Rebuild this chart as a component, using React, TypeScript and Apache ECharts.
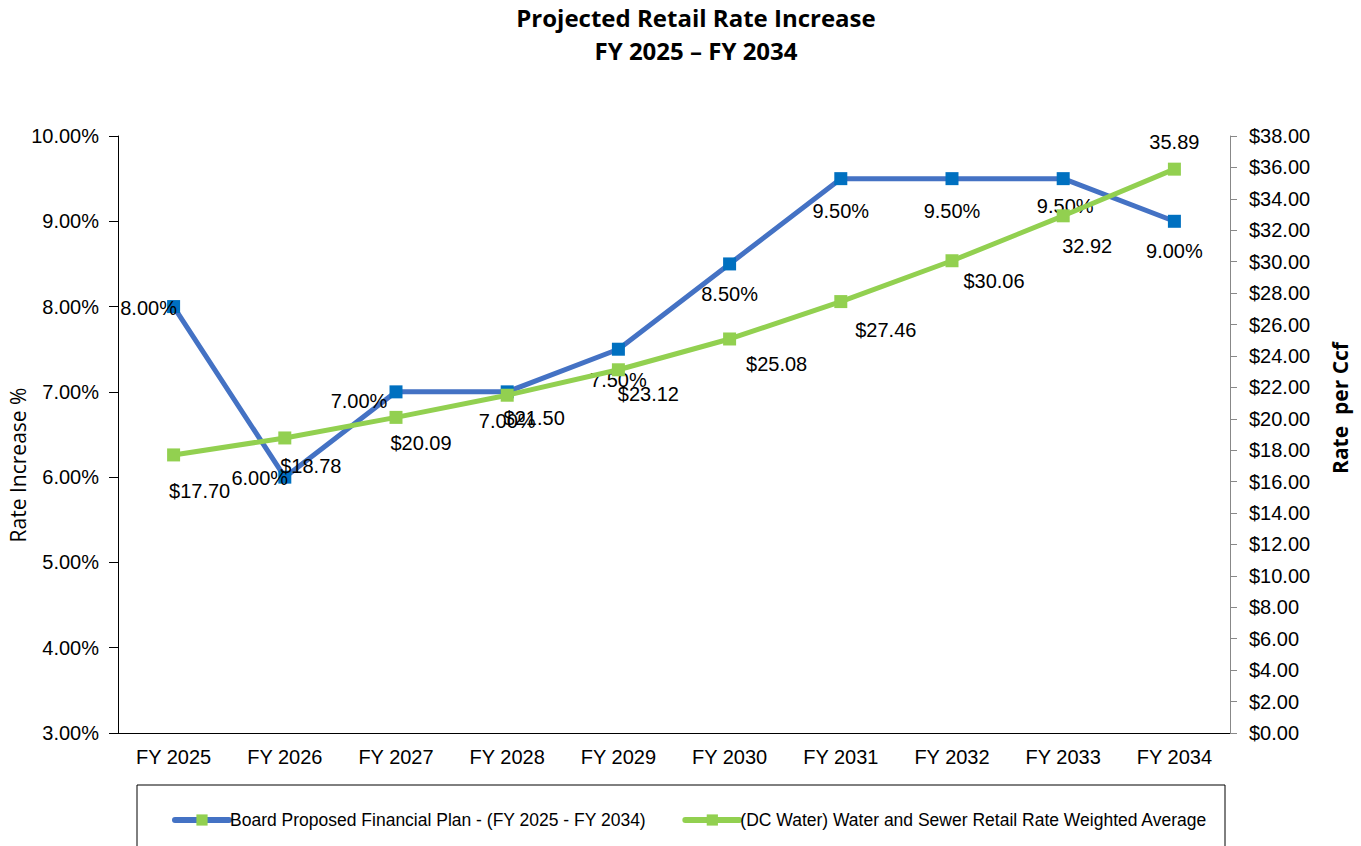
import React, { useEffect, useRef } from "react";
import * as echarts from "echarts";

const categories = ["FY 2025", "FY 2026", "FY 2027", "FY 2028", "FY 2029", "FY 2030", "FY 2031", "FY 2032", "FY 2033", "FY 2034"];
const rateIncrease = [8.0, 6.0, 7.0, 7.0, 7.5, 8.5, 9.5, 9.5, 9.5, 9.0];
const ratePerCcf = [17.7, 18.78, 20.09, 21.5, 23.12, 25.08, 27.46, 30.06, 32.92, 35.89];
const ratePrefix = ["$", "$", "$", "$", "$", "$", "$", "$", "", ""];
const blueName = "Board Proposed Financial Plan - (FY 2025 - FY 2034)";
const greenName = "(DC Water) Water and Sewer Retail Rate Weighted Average";

// label placement (layout, not data)
const blueOffsets = [[-25, 1], [-25, 1], [-37, 9], [0, 29], [0, 31], [0, 30], [0, 32], [0, 32], [2, 27], [0, 30]];
const greenOffsets = [[26, 36], [26, 28], [25, 26], [27, 23], [30, 24], [47, 25], [45, 28], [42, 20], [24, 30], [0, -27]];

const FONT = "Liberation Sans, Arial, sans-serif";

export default function App() {
  const ref = useRef<HTMLDivElement>(null);
  useEffect(() => {
    if (!ref.current) return;
    const chart = echarts.init(ref.current, null, { renderer: "svg" });
    const labelStyle = { fontFamily: FONT, fontSize: 20, color: "#000" };
    chart.setOption({
      animation: false,
      backgroundColor: "#fff",
      title: {
        text: "Projected Retail Rate Increase\nFY 2025 – FY 2034",
        left: 691,
        textAlign: "center",
        top: -4,
        textStyle: { fontFamily: "Open Sans, sans-serif", fontWeight: "bold", fontSize: 24, lineHeight: 33, color: "#000" },
      },
      grid: { left: 118, right: 131, top: 136, bottom: 113 },
      xAxis: {
        type: "category",
        data: categories,
        boundaryGap: true,
        axisLine: { lineStyle: { color: "#000", width: 1 } },
        axisTick: { show: false },
        axisLabel: { fontFamily: FONT, fontSize: 20, color: "#000", margin: 14 },
      },
      yAxis: [
        {
          type: "value",
          min: 3,
          max: 10,
          interval: 1,
          splitLine: { show: false },
          axisLine: { show: true, lineStyle: { color: "#000" } },
          axisTick: { show: true, length: 9, lineStyle: { color: "#000" } },
          axisLabel: { fontFamily: FONT, fontSize: 20, color: "#000", margin: 19, formatter: (v: number) => v.toFixed(2) + "%" },
        },
        {
          type: "value",
          min: 0,
          max: 38,
          interval: 2,
          position: "right",
          splitLine: { show: false },
          axisLine: { show: true, lineStyle: { color: "#888" } },
          axisTick: { show: true, length: 7, lineStyle: { color: "#888" } },
          axisLabel: { fontFamily: FONT, fontSize: 20, color: "#000", margin: 19, formatter: (v: number) => "$" + v.toFixed(2) },
        },
      ],
      legend: {
        left: 172,
        top: 811,
        padding: 0,
        itemWidth: 54,
        itemHeight: 14,
        itemGap: 36,
        textStyle: { fontFamily: FONT, fontSize: 17.5, color: "#000", padding: [0, 0, 0, -4] },
        data: [
          { name: blueName, itemStyle: { color: "#92D050" }, lineStyle: { width: 6, cap: "round" } },
          { name: greenName, lineStyle: { width: 6, cap: "round" } },
        ],
      },
      graphic: [
        {
          type: "rect",
          shape: { x: 137, y: 785, width: 1088, height: 80 },
          style: { fill: "none", stroke: "#000", lineWidth: 1 },
          z: -1,
        },
        {
          type: "text",
          x: 18,
          y: 465,
          rotation: Math.PI / 2,
          style: { text: "Rate Increase %", fontFamily: "Open Sans, sans-serif", fontSize: 21, fill: "#000", align: "center", verticalAlign: "middle" },
        },
        {
          type: "text",
          x: 1340,
          y: 408,
          rotation: Math.PI / 2,
          style: { text: "Rate  per Ccf", fontFamily: "Open Sans, sans-serif", fontWeight: "bold", fontSize: 21, fill: "#000", align: "center", verticalAlign: "middle" },
        },
      ],
      series: [
        {
          name: blueName,
          type: "line",
          yAxisIndex: 0,
          symbol: "rect",
          symbolSize: 13,
          lineStyle: { color: "#4472C4", width: 5 },
          itemStyle: { color: "#0070C0" },
          data: rateIncrease.map((v, i) => ({
            value: v,
            label: {
              show: true,
              position: "inside",
              offset: blueOffsets[i],
              formatter: () => v.toFixed(2) + "%",
              ...labelStyle,
            },
          })),
          z: 2,
        },
        {
          name: greenName,
          type: "line",
          yAxisIndex: 1,
          symbol: "rect",
          symbolSize: 13,
          lineStyle: { color: "#92D050", width: 5 },
          itemStyle: { color: "#92D050" },
          data: ratePerCcf.map((v, i) => ({
            value: v,
            label: {
              show: true,
              position: "inside",
              offset: greenOffsets[i],
              formatter: () => ratePrefix[i] + v.toFixed(2),
              ...labelStyle,
            },
          })),
          z: 3,
        },
      ],
    });
    return () => chart.dispose();
  }, []);
  return <div ref={ref} style={{ width: 1361, height: 846, position: "absolute", left: 0, top: 0 }} />;
}
